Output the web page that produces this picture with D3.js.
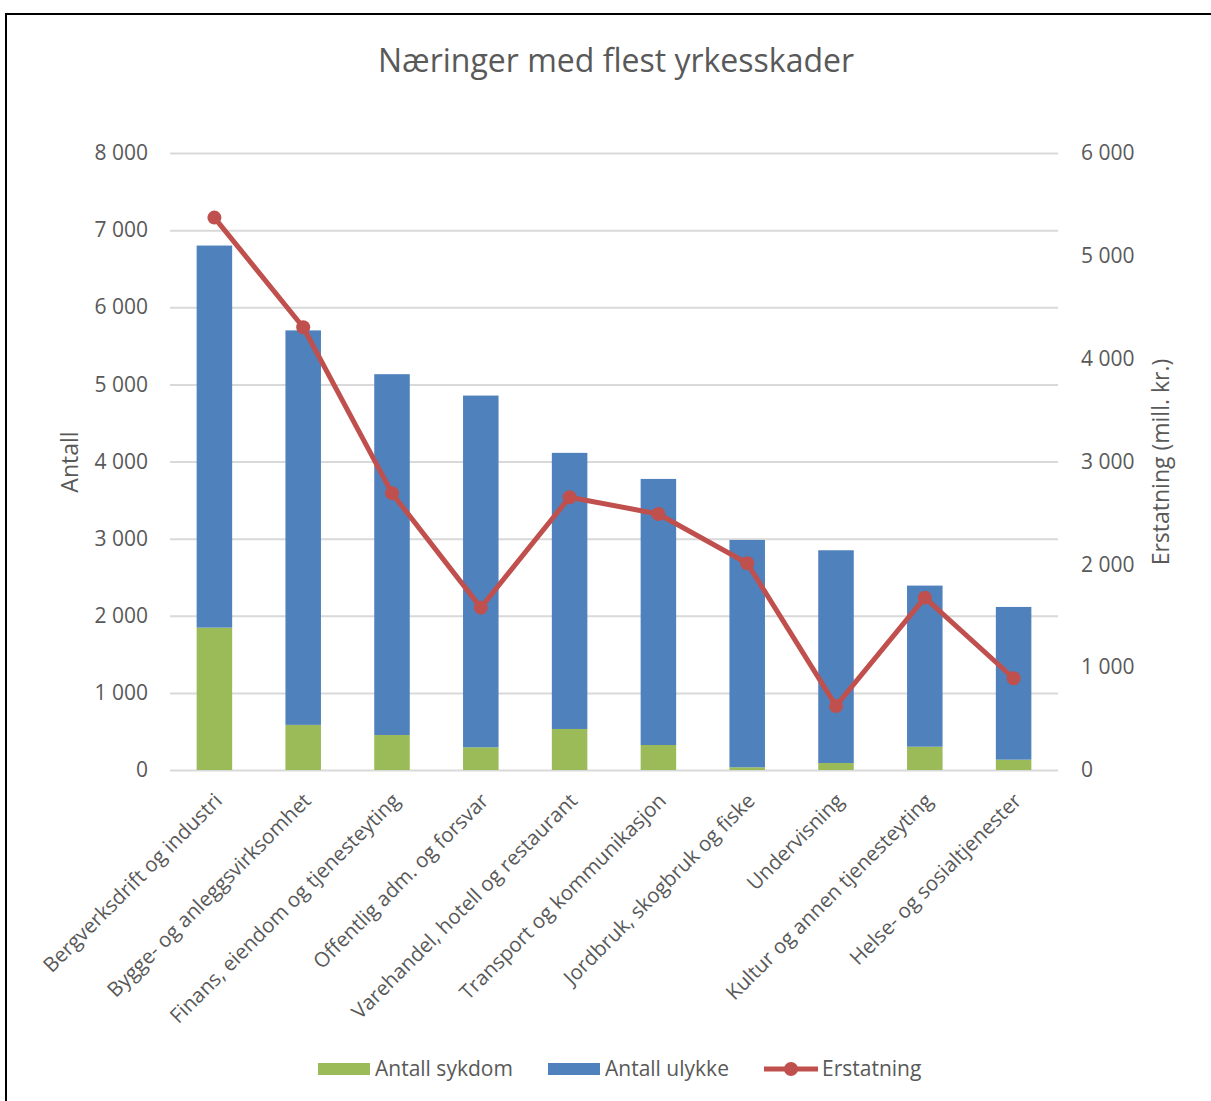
<!DOCTYPE html>
<html>
<head>
<meta charset="utf-8">
<script src="https://cdn.jsdelivr.net/npm/d3@7"></script>
<style>
  body { margin: 0; background: #fff; }
  text { font-family: 'Open Sans', sans-serif; fill: #595959; }
</style>
</head>
<body>
<div id="main"></div>
<script>
// categories (industries)
const categories = [
  'Bergverksdrift og industri',
  'Bygge- og anleggsvirksomhet',
  'Finans, eiendom og tjenesteyting',
  'Offentlig adm. og forsvar',
  'Varehandel, hotell og restaurant',
  'Transport og kommunikasjon',
  'Jordbruk, skogbruk og fiske',
  'Undervisning',
  'Kultur og annen tjenesteyting',
  'Helse- og sosialtjenester'
];
// stacked bar values (left axis)
const sykdom = [1846, 585, 454, 294, 532, 324, 35, 91, 302, 134];
const ulykke = [4954, 5115, 4678, 4561, 3580, 3450, 2948, 2758, 2089, 1980];
// line values (right axis, mill. kr.)
const erstatning = [5372, 4306, 2692, 1579, 2653, 2490, 2011, 623, 1676, 892];
// tick values
const leftTicks = [0, 1000, 2000, 3000, 4000, 5000, 6000, 7000, 8000];
const rightTicks = [0, 1000, 2000, 3000, 4000, 5000, 6000];

function main() {
  const width = 1211;
  const height = 1101;
  const plot = { left: 170, right: 1058, top: 153, bottom: 770 };
  const green = '#9bbb59';
  const blue = '#4f81bd';
  const red = '#c0504d';

  // norwegian number format with space as thousands separator
  const fmt = d3.formatLocale({ decimal: ',', thousands: '\u00a0', grouping: [3], currency: ['', ''] }).format(',d');

  const x = d3.scaleBand()
    .domain(categories)
    .range([plot.left, plot.right])
    .paddingInner(0.6)
    .paddingOuter(0.3);
  const yLeft = d3.scaleLinear().domain([0, 8000]).range([plot.bottom, plot.top]);
  const yRight = d3.scaleLinear().domain([0, 6000]).range([plot.bottom, plot.top]);

  const svg = d3.select('#main')
    .append('svg')
    .attr('width', width)
    .attr('height', height);

  // chart frame (only top and left edges are visible in the picture)
  svg.append('rect')
    .attr('x', 6)
    .attr('y', 14)
    .attr('width', width + 20)
    .attr('height', height + 20)
    .attr('fill', 'none')
    .attr('stroke', '#000')
    .attr('stroke-width', 2);

  // title
  svg.append('text')
    .attr('x', 616)
    .attr('y', 72)
    .style('font-size', '32px')
    .style('text-anchor', 'middle')
    .text('Næringer med flest yrkesskader');

  // gridlines + left axis
  const leftAxis = d3.axisLeft(yLeft)
    .tickValues(leftTicks)
    .tickFormat(fmt)
    .tickSize(-(plot.right - plot.left))
    .tickPadding(22);
  const gl = svg.append('g')
    .attr('transform', `translate(${plot.left},0)`)
    .call(leftAxis);
  gl.select('.domain').remove();
  gl.selectAll('line').attr('stroke', '#d9d9d9').attr('stroke-width', 2);
  gl.selectAll('text').style('font-size', '21px').attr('fill', '#595959');

  // right axis (labels only)
  const rightAxis = d3.axisRight(yRight)
    .tickValues(rightTicks)
    .tickFormat(fmt)
    .tickSize(0)
    .tickPadding(23);
  const gr = svg.append('g')
    .attr('transform', `translate(${plot.right},0)`)
    .call(rightAxis);
  gr.select('.domain').remove();
  gr.selectAll('text').style('font-size', '21px').attr('fill', '#595959');

  // stacked bars
  const rows = categories.map((c, i) => ({ cat: c, sykdom: sykdom[i], ulykke: ulykke[i] }));
  const stack = d3.stack().keys(['sykdom', 'ulykke'])(rows);
  const colors = { sykdom: green, ulykke: blue };
  svg.append('g')
    .selectAll('g')
    .data(stack)
    .enter()
    .append('g')
    .attr('fill', d => colors[d.key])
    .selectAll('rect')
    .data(d => d)
    .enter()
    .append('rect')
    .attr('x', d => x(d.data.cat))
    .attr('width', x.bandwidth())
    .attr('y', d => yLeft(d[1]))
    .attr('height', d => yLeft(d[0]) - yLeft(d[1]));

  // line (right axis)
  const cx = c => x(c) + x.bandwidth() / 2;
  const line = d3.line()
    .x((d, i) => cx(categories[i]))
    .y(d => yRight(d));
  svg.append('path')
    .datum(erstatning)
    .attr('d', line)
    .attr('fill', 'none')
    .attr('stroke', red)
    .attr('stroke-width', 5)
    .attr('stroke-linejoin', 'round');
  svg.append('g')
    .selectAll('circle')
    .data(erstatning)
    .enter()
    .append('circle')
    .attr('cx', (d, i) => cx(categories[i]))
    .attr('cy', d => yRight(d))
    .attr('r', 7)
    .attr('fill', red);

  // category labels, rotated
  svg.append('g')
    .selectAll('text')
    .data(categories)
    .enter()
    .append('text')
    .attr('transform', d => `translate(${cx(d) + 9},${plot.bottom + 32}) rotate(-45)`)
    .style('font-size', '20.5px')
    .style('text-anchor', 'end')
    .text(d => d);

  // y axis titles
  svg.append('text')
    .attr('transform', `translate(78,462) rotate(-90)`)
    .style('font-size', '23px')
    .style('text-anchor', 'middle')
    .text('Antall');
  svg.append('text')
    .attr('transform', `translate(1169,462) rotate(-90)`)
    .style('font-size', '23px')
    .style('text-anchor', 'middle')
    .text('Erstatning (mill. kr.)');

  // legend
  const legend = svg.append('g');
  const ly = 1069;
  legend.append('rect').attr('x', 318).attr('y', ly - 6).attr('width', 52).attr('height', 12).attr('fill', green);
  legend.append('text').attr('x', 375).attr('y', ly + 7).style('font-size', '21px').text('Antall sykdom');
  legend.append('rect').attr('x', 548).attr('y', ly - 6).attr('width', 52).attr('height', 12).attr('fill', blue);
  legend.append('text').attr('x', 605).attr('y', ly + 7).style('font-size', '21px').text('Antall ulykke');
  legend.append('line').attr('x1', 764).attr('x2', 818).attr('y1', ly).attr('y2', ly)
    .attr('stroke', red).attr('stroke-width', 5);
  legend.append('circle').attr('cx', 791).attr('cy', ly).attr('r', 7).attr('fill', red);
  legend.append('text').attr('x', 822).attr('y', ly + 7).style('font-size', '21px').text('Erstatning');
}

document.addEventListener('DOMContentLoaded', main);
</script>
</body>
</html>
